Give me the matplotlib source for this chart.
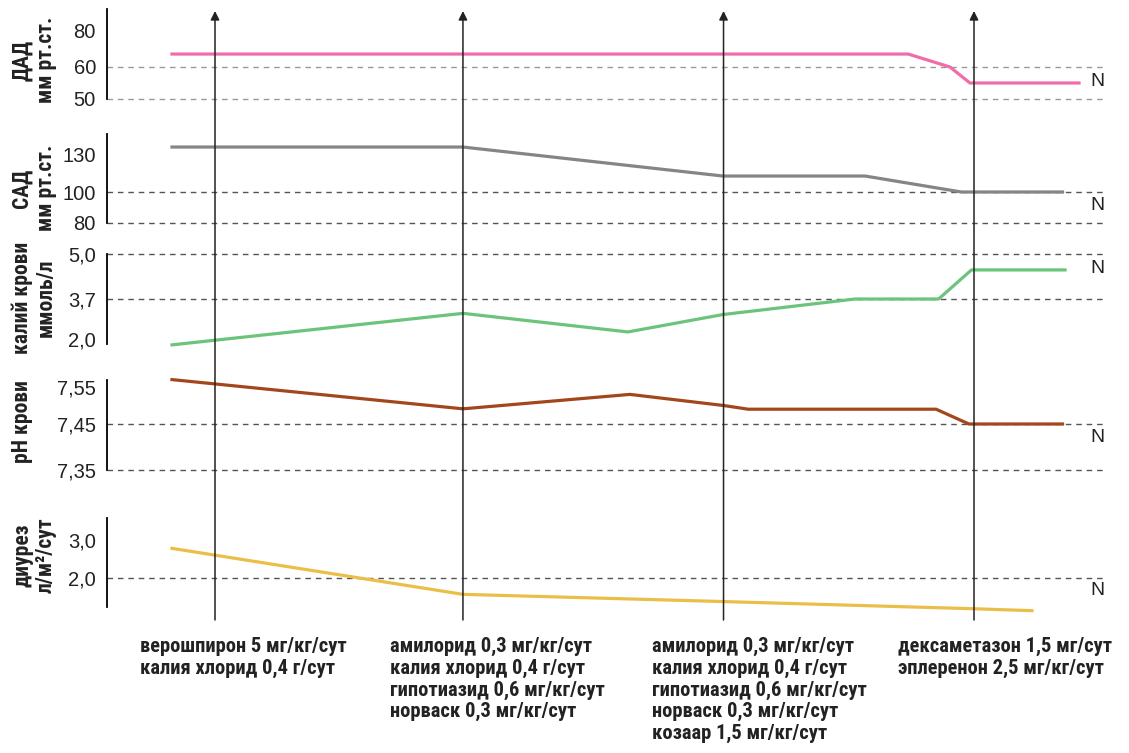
import numpy as np
import matplotlib.pyplot as plt

# time axis (arbitrary units, 1 unit ~ one treatment step)
arrow_t = [1.0, 1.98, 3.01, 4.0]

# ДАД, мм рт.ст.
dad_t = [0.83, 3.74, 3.905, 3.984, 4.415]
dad_v = [67.2, 67.2, 60.0, 55.0, 55.0]
dad_ticks = [50, 60, 80]
dad_grid = [50, 60]

# САД, мм рт.ст.
sad_t = [0.83, 1.98, 3.008, 3.57, 3.95, 4.35]
sad_v = [135.5, 135.5, 112.6, 112.6, 100.0, 100.0]
sad_ticks = [80, 100, 130]
sad_grid = [80, 100]

# калий крови, ммоль/л
k_t = [0.83, 1.98, 2.632, 3.008, 3.53, 3.86, 3.99, 4.36]
k_v = [1.75, 3.09, 2.30, 3.04, 3.70, 3.70, 4.54, 4.54]
k_ticks = [2.0, 3.7, 5.0]
k_grid = [3.7, 5.0]

# pH крови
ph_t = [0.83, 1.98, 2.64, 3.01, 3.107, 3.85, 3.98, 4.35]
ph_v = [7.57, 7.491, 7.53, 7.50, 7.49, 7.49, 7.45, 7.45]
ph_ticks = [7.35, 7.45, 7.55]
ph_grid = [7.35, 7.45]

# диурез, л/м2/сут
di_t = [0.83, 1.98, 3.008, 4.004, 4.229]
di_v = [2.78, 1.57, 1.38, 1.19, 1.14]
di_ticks = [2.0, 3.0]
di_grid = [2.0]

drugs = [
    "верошпирон 5 мг/кг/сут\nкалия хлорид 0,4 г/сут",
    "амилорид 0,3 мг/кг/сут\nкалия хлорид 0,4 г/сут\nгипотиазид 0,6 мг/кг/сут\nнорваск 0,3 мг/кг/сут",
    "амилорид 0,3 мг/кг/сут\nкалия хлорид 0,4 г/сут\nгипотиазид 0,6 мг/кг/сут\nнорваск 0,3 мг/кг/сут\nкозаар 1,5 мг/кг/сут",
    "дексаметазон 1,5 мг/сут\nэплеренон 2,5 мг/кг/сут",
]

W, H = 1129, 753
X0, X1 = 107, 1105
BOLD = ['Roboto Condensed', 'DejaVu Sans']
REG = ['Liberation Sans', 'DejaVu Sans']


def px2t(px):
    return 1 + (px - 215) / 253


def make_scale(vals, pos):
    vals = np.asarray(vals, float)
    pos = -np.asarray(pos, float)
    lo = (pos[1] - pos[0]) / (vals[1] - vals[0])
    hi = (pos[-1] - pos[-2]) / (vals[-1] - vals[-2])

    def fwd(v):
        v = np.asarray(v, float)
        out = np.interp(v, vals, pos)
        out = np.where(v < vals[0], pos[0] + (v - vals[0]) * lo, out)
        return np.where(v > vals[-1], pos[-1] + (v - vals[-1]) * hi, out)

    def inv(p):
        p = np.asarray(p, float)
        out = np.interp(p, pos, vals)
        out = np.where(p < pos[0], vals[0] + (p - pos[0]) / lo, out)
        return np.where(p > pos[-1], vals[-1] + (p - pos[-1]) / hi, out)

    return fwd, inv


fig = plt.figure(figsize=(W / 100, H / 100), dpi=100)

panels = [
    # t, v, color, ticks, labels, tick pixel rows, grid, top, bottom, ylabel, label center, N value, grid colour
    (dad_t, dad_v, '#F06DAA', dad_ticks, ['50', '60', '80'], [99, 67, 31], dad_grid, 9, 99,
     "ДАД\nмм рт.ст.", 60, 55.6, '#999999'),
    (sad_t, sad_v, '#858585', sad_ticks, ['80', '100', '130'], [223, 192, 154], sad_grid, 134, 223,
     "САД\nмм рт.ст.", 188, 91, '#555555'),
    (k_t, k_v, '#6CC47C', k_ticks, ['2,0', '3,7', '5,0'], [339, 299, 254], k_grid, 254, 344,
     "калий крови\nммоль/л", 298, 4.57, '#555555'),
    (ph_t, ph_v, '#A2461C', ph_ticks, ['7,35', '7,45', '7,55'], [470, 424, 387], ph_grid, 380, 470,
     "pH крови", 422, 7.42, '#555555'),
    (di_t, di_v, '#EBBE48', di_ticks, ['2,0', '3,0'], [578, 540], di_grid, 518, 607,
     "диурез\nл/м²/сут", 555, 1.68, '#555555'),
]

for t, v, col, ticks, labels, tpos, grid, top, bot, ylab, yc, nval, gcol in panels:
    ax = fig.add_axes([X0 / W, 1 - bot / H, (X1 - X0) / W, (bot - top) / H])
    fwd, inv = make_scale(ticks, tpos)
    ax.set_yscale('function', functions=(fwd, inv))
    ax.set_ylim(float(inv(-bot)), float(inv(-top)))
    ax.set_xlim(px2t(X0), px2t(X1))
    ax.patch.set_visible(False)
    for s in ['top', 'right', 'bottom']:
        ax.spines[s].set_visible(False)
    ax.spines['left'].set_linewidth(1.3)
    ax.set_xticks([])
    ax.set_yticks(ticks)
    ax.set_yticklabels(labels, family=REG, fontsize=14.5, color='#222222')
    ax.yaxis.set_minor_locator(plt.NullLocator())
    ax.tick_params(axis='y', length=0, pad=8)
    for g in grid:
        ax.axhline(g, color=gcol, lw=1, ls=(0, (4, 3.5)), clip_on=False)
    ax.plot(t, v, color=col, lw=2.3, clip_on=False, solid_joinstyle='round')
    ax.text(px2t(1097), nval, 'N', ha='center', va='center', fontsize=14,
            family=REG, color='#222222')
    fig.text(11 / W, 1 - yc / H, ylab, rotation=90, ha='left', va='center',
             multialignment='center', fontsize=15.5, fontweight='bold',
             family=BOLD, color='#222222', linespacing=1.12)

# overlay for treatment arrows
ov = fig.add_axes([0, 0, 1, 1])
ov.set_xlim(px2t(0), px2t(W))
ov.set_ylim(H, 0)
ov.axis('off')
for at in arrow_t:
    ov.annotate('', xy=(at, 11), xytext=(at, 620),
                arrowprops=dict(arrowstyle='-|>', color='#222222', lw=1.1,
                                mutation_scale=13, shrinkA=0, shrinkB=0))

for x, txt in zip([140, 390, 652, 898], drugs):
    fig.text(x / W, 1 - 637 / H, txt, ha='left', va='top', fontsize=14.8,
             fontweight='bold', family=BOLD, color='#222222', linespacing=1.17)

fig.savefig('out.png', dpi=100)
